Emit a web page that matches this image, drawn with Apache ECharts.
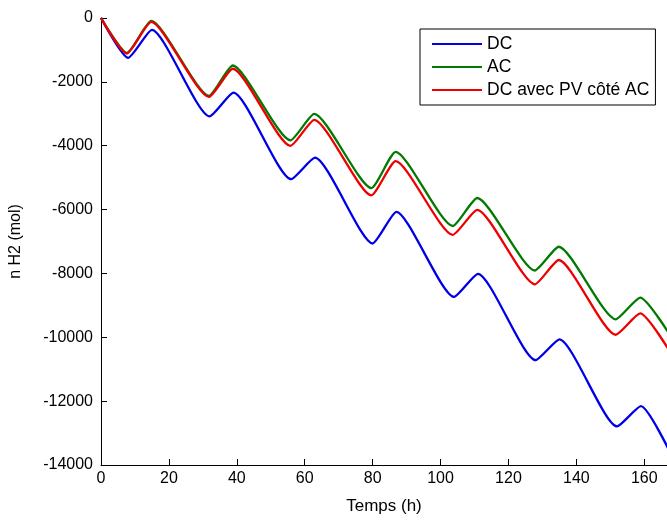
<!DOCTYPE html>
<html>
<head>
<meta charset="utf-8">
<script src="https://cdn.jsdelivr.net/npm/echarts@6/dist/echarts.min.js"></script>
<style>
html,body{margin:0;padding:0;background:#fff;}
#chart{width:667px;height:520px;}
</style>
</head>
<body>
<div id="chart"></div>
<script>
// Time (h) of each read point: start, then alternating minimum / peak, then end
var timesDC = [0, 8, 15, 32, 39, 56, 63, 80, 87, 104, 111, 128, 135, 152, 159, 168];
var timesAC = [0, 7.6, 14.8, 31.8, 38.8, 55.8, 62.8, 79.6, 86.8, 103.6, 110.8, 127.8, 134.8, 151.6, 158.8, 168];
var timesPV = [0, 7.6, 14.8, 31.8, 38.8, 55.8, 62.8, 79.6, 86.8, 103.6, 110.8, 127.8, 134.8, 151.6, 158.8, 168];

var valuesDC = [0, -1248, -372, -3082, -2338, -5049, -4376, -7062, -6071, -8734, -8013, -10717, -10066, -12792, -12157, -13690];
var valuesAC = [0, -1093, -93, -2438, -1487, -3831, -3004, -5327, -4191, -6514, -5637, -7908, -7164, -9437, -8756, -10006];
var valuesPV = [0, -1115, -124, -2470, -1589, -4005, -3190, -5553, -4482, -6792, -6009, -8341, -7579, -9921, -9252, -10528];

var seriesNames = ['DC', 'AC', 'DC avec PV côté AC'];
var xTicks = [0, 20, 40, 60, 80, 100, 120, 140, 160];
var yTicks = [0, -2000, -4000, -6000, -8000, -10000, -12000, -14000];
var xMax = 166.7;   // right edge of the visible (cropped) plot

function pairs(t, v) { return t.map(function (x, i) { return [x, v[i]]; }); }

var FONT = '"Liberation Sans", Arial, Helvetica, sans-serif';
var chart = echarts.init(document.getElementById('chart'), null, {renderer: 'canvas'});
var colors = ['#0000e6', '#007a00', '#ee0000'];

chart.setOption({
  animation: false,
  backgroundColor: '#ffffff',
  grid: {left: 96, top: 18, right: 0, bottom: 50},
  xAxis: {
    type: 'value', min: 0, max: xMax, interval: 20,
    name: 'Temps (h)', nameLocation: 'middle', nameGap: 33,
    nameTextStyle: {color: '#000', fontSize: 17, fontFamily: FONT},
    axisLine: {onZero: false, lineStyle: {color: '#000', width: 1}},
    axisTick: {inside: true, length: 6, lineStyle: {color: '#000'}},
    axisLabel: {color: '#000', fontSize: 16, fontFamily: FONT, margin: 6, showMaxLabel: false,
      formatter: function (v) { return xTicks.indexOf(v) >= 0 ? String(v) : ''; }},
    splitLine: {show: false}
  },
  yAxis: {
    type: 'value', min: -14000, max: 0, interval: 2000,
    name: 'n H2 (mol)', nameLocation: 'middle', nameGap: 77, nameRotate: 90,
    nameTextStyle: {color: '#000', fontSize: 16, fontFamily: FONT},
    axisLine: {show: true, onZero: false, lineStyle: {color: '#000', width: 1}},
    axisTick: {show: true, inside: true, length: 6, lineStyle: {color: '#000'}},
    axisLabel: {color: '#000', fontSize: 16, fontFamily: FONT, margin: 8,
      formatter: function (v) { return yTicks.indexOf(v) >= 0 ? String(v) : ''; }},
    splitLine: {show: false}
  },
  legend: {
    orient: 'vertical', left: 420, top: 29,
    padding: [5, 6, 5, 12], itemGap: 3, itemWidth: 50, itemHeight: 20,
    borderColor: '#000', borderWidth: 1, backgroundColor: '#fff',
    textStyle: {color: '#000', fontSize: 17.5, lineHeight: 20, fontFamily: FONT},
    data: seriesNames.map(function (n) { return {name: n, icon: 'path://M0,0 L50,0 L50,2 L0,2 Z'}; })
  },
  series: [
    {name: seriesNames[0], type: 'line', data: pairs(timesDC, valuesDC), smooth: 0.2, symbol: 'none',
      lineStyle: {color: colors[0], width: 2.3}, itemStyle: {color: colors[0]}},
    {name: seriesNames[1], type: 'line', data: pairs(timesAC, valuesAC), smooth: 0.2, symbol: 'none',
      lineStyle: {color: colors[1], width: 2.3}, itemStyle: {color: colors[1]}},
    {name: seriesNames[2], type: 'line', data: pairs(timesPV, valuesPV), smooth: 0.2, symbol: 'none',
      lineStyle: {color: colors[2], width: 2.3}, itemStyle: {color: colors[2]}}
  ]
});
</script>
</body>
</html>
